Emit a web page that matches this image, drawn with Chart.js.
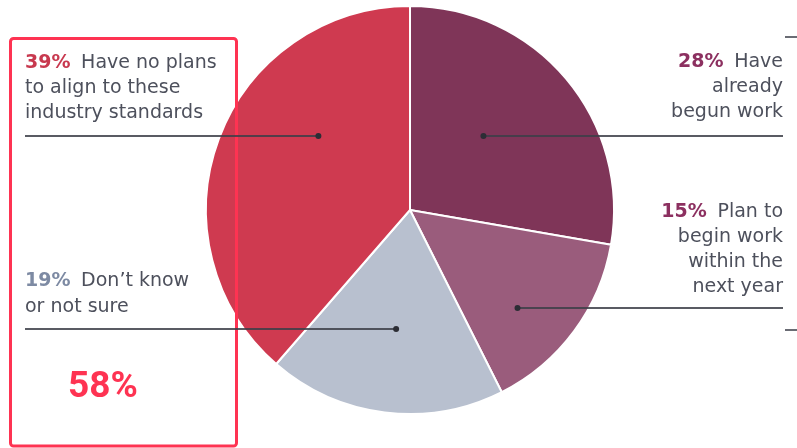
<!DOCTYPE html>
<html>
<head>
<meta charset="utf-8">
<script src="https://cdn.jsdelivr.net/npm/chart.js@4.4.0/dist/chart.umd.min.js"></script>
<style>
  html, body { margin: 0; padding: 0; background: #fff; }
  #wrap { position: relative; width: 797px; height: 448px; }
</style>
</head>
<body>
<div id="wrap"><canvas id="chart" width="797" height="448"></canvas></div>
<script>
// data
const categories = ["Have already begun work", "Plan to begin work within the next year", "Don\u2019t know or not sure", "Have no plans to align to these industry standards"];
const shares = [28, 15, 19, 39];
const labelLines = [
  ["Have", "already", "begun work"],
  ["Plan to", "begin work", "within the", "next year"],
  ["Don\u2019t know", "or not sure"],
  ["Have no plans", "to align to these", "industry standards"]
];
const highlightLabel = "58%";

const sliceColors = ["#7f3558", "#9a5c7c", "#b8c0cf", "#cf3a50"];
const pctColors = ["#8c3060", "#8c3060", "#7d8aa3", "#c8394f"];

// label layout: side, anchor x, first baseline, leader y, dot offset (fraction of radius)
const labelLayout = [
  { side: "right", x: 783, y: 67, lineY: 136, dot: [0.36, -0.36] },
  { side: "right", x: 783, y: 217, lineY: 308, dot: [0.527, 0.478] },
  { side: "left", x: 25, y: 286, lineY: 329, dot: [-0.068, 0.58] },
  { side: "left", x: 25, y: 68, lineY: 136, dot: [-0.449, -0.36] }
];

const textFont = "'DejaVu Sans', sans-serif";
const textSize = 19;

const labelsPlugin = {
  id: "calloutLabels",
  afterDraw(chart) {
    const ctx = chart.ctx;
    const arc = chart.getDatasetMeta(0).data[0];
    const cx = arc.x, cy = arc.y, r = arc.outerRadius;
    ctx.save();

    // highlight box
    ctx.strokeStyle = "#fe3352";
    ctx.lineWidth = 3;
    ctx.beginPath();
    ctx.roundRect(10.5, 38.5, 226, 407.5, 3);
    ctx.stroke();
    ctx.fillStyle = "#fe3352";
    ctx.font = "bold 37px Roboto, sans-serif";
    ctx.textAlign = "center";
    ctx.textBaseline = "alphabetic";
    ctx.fillText(highlightLabel, 103, 397);

    // cropped edge lines
    ctx.strokeStyle = "#6a6c74";
    ctx.lineWidth = 2;
    ctx.beginPath();
    ctx.moveTo(785, 37); ctx.lineTo(797, 37);
    ctx.moveTo(785, 330); ctx.lineTo(797, 330);
    ctx.stroke();

    labelLayout.forEach((lay, i) => {
      const lines = labelLines[i];
      const pct = shares[i] + "%";
      const lineH = i === 2 ? 26 : 25;
      ctx.textAlign = "left";
      // first line: bold percentage + text
      ctx.font = "bold " + textSize + "px " + textFont;
      const pctW = ctx.measureText(pct + " ").width + 4;
      ctx.font = textSize + "px " + textFont;
      const firstW = ctx.measureText(lines[0]).width;
      let x0 = lay.side === "left" ? lay.x : lay.x - pctW - firstW;
      ctx.font = "bold " + textSize + "px " + textFont;
      ctx.fillStyle = pctColors[i];
      ctx.fillText(pct, x0, lay.y);
      ctx.font = textSize + "px " + textFont;
      ctx.fillStyle = "#4d505c";
      ctx.fillText(lines[0], x0 + pctW, lay.y);
      ctx.textAlign = lay.side === "left" ? "left" : "right";
      for (let k = 1; k < lines.length; k++) {
        ctx.fillText(lines[k], lay.x, lay.y + k * lineH);
      }

      // leader line
      const dx = cx + lay.dot[0] * r;
      ctx.strokeStyle = "rgba(60,62,72,0.85)";
      ctx.lineWidth = 2;
      ctx.beginPath();
      ctx.moveTo(lay.x, lay.lineY);
      ctx.lineTo(dx, lay.lineY);
      ctx.stroke();
      ctx.fillStyle = "#2c2d35";
      ctx.beginPath();
      ctx.arc(dx, lay.lineY, 3, 0, Math.PI * 2);
      ctx.fill();
    });
    ctx.restore();
  }
};

new Chart(document.getElementById("chart").getContext("2d"), {
  type: "pie",
  data: {
    labels: categories,
    datasets: [{
      data: shares,
      backgroundColor: sliceColors,
      borderColor: "#ffffff",
      borderWidth: 2
    }]
  },
  options: {
    responsive: false,
    animation: false,
    layout: { padding: { left: 205, right: 182, top: 5, bottom: 33 } },
    plugins: {
      legend: { display: false },
      tooltip: { enabled: false }
    }
  },
  plugins: [labelsPlugin]
});
</script>
</body>
</html>
